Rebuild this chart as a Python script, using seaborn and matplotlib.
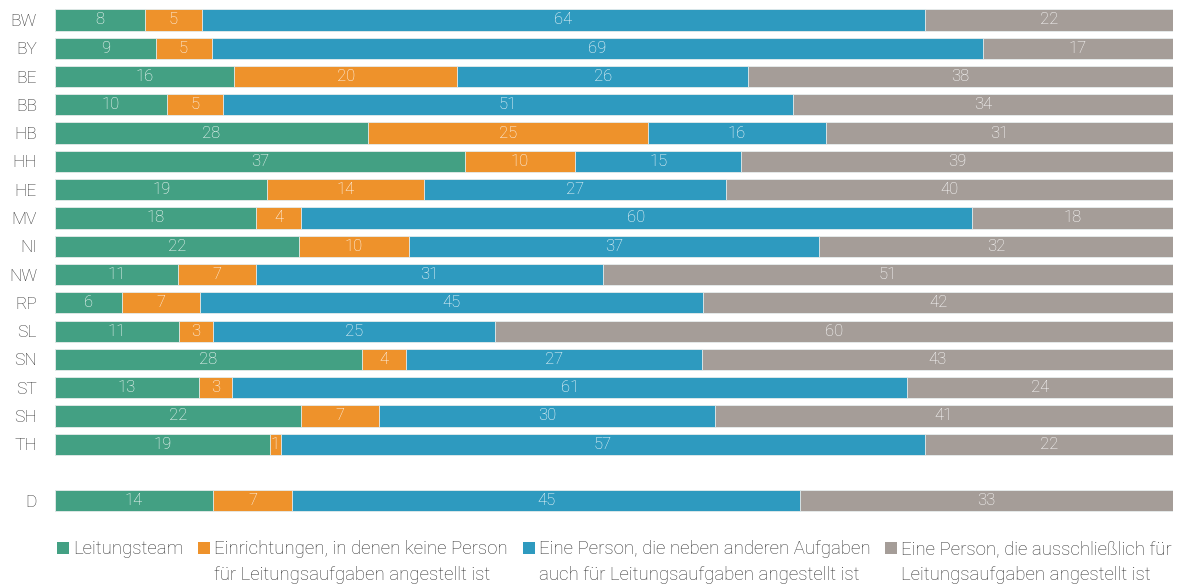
import numpy as np
import pandas as pd
import matplotlib
matplotlib.use("Agg")
import matplotlib.pyplot as plt
from matplotlib.patches import Patch, Rectangle
from matplotlib.legend_handler import HandlerPatch
import seaborn as sns

states = ["BW", "BY", "BE", "BB", "HB", "HH", "HE", "MV", "NI", "NW",
          "RP", "SL", "SN", "ST", "SH", "TH", "D"]
leitungsteam = [8, 9, 16, 10, 28, 37, 19, 18, 22, 11, 6, 11, 28, 13, 22, 19, 14]
keine_person = [5, 5, 20, 5, 25, 10, 14, 4, 10, 7, 7, 3, 4, 3, 7, 1, 7]
neben_aufgaben = [64, 69, 26, 51, 16, 15, 27, 60, 37, 31, 45, 25, 27, 61, 30, 57, 45]
ausschliesslich = [22, 17, 38, 34, 31, 39, 40, 18, 32, 51, 42, 60, 43, 24, 41, 22, 33]

series_names = [
    "Leitungsteam\n ",
    "Einrichtungen, in denen keine Person\nfür Leitungsaufgaben angestellt ist",
    "Eine Person, die neben anderen Aufgaben\nauch für Leitungsaufgaben angestellt ist",
    "Eine Person, die ausschließlich für\nLeitungsaufgaben angestellt ist",
]
colors = ["#43A083", "#EE922B", "#2E9ABF", "#A59D98"]

sns.set_theme(style="white")
plt.rcParams["font.family"] = ["Roboto", "DejaVu Sans"]

vals = np.array([leitungsteam, keine_person, neben_aufgaben, ausschliesslich], dtype=float)
shares = vals / vals.sum(axis=0) * 100
cum = np.cumsum(shares, axis=0)

order = states[:-1] + [" "] + ["D"]

fig = plt.figure(figsize=(11.83, 5.84), dpi=100)
ax = fig.add_axes([55 / 1183, 1 - 515 / 584, (1173 - 55) / 1183, (515 - 5.8) / 584])

for i in range(3, -1, -1):
    df = pd.DataFrame({"state": states, "x": cum[i]})
    sns.barplot(data=df, y="state", x="x", order=order, orient="h",
                color=colors[i], saturation=1, width=0.75, ax=ax,
                edgecolor="#e8eeee", linewidth=0.6)

ypos = {s: order.index(s) for s in states}
for i in range(4):
    for j, s in enumerate(states):
        left = cum[i][j] - shares[i][j]
        ax.text(left + shares[i][j] / 2, ypos[s], f"{int(vals[i][j])}",
                ha="center", va="center", color="white", fontsize=12,
                fontweight="light")

ax.set_xlim(0, 100)
ax.set_ylim(17.5, -0.5)
ax.set_xlabel("")
ax.set_ylabel("")
ax.set_xticks([])
ax.tick_params(axis="y", length=0, pad=13, labelsize=12.5, labelcolor="#333333")
for lab in ax.get_yticklabels():
    lab.set_fontweight("light")
for sp in ax.spines.values():
    sp.set_visible(False)

LEG_FS = 13.4


def top_square(legend, orig_handle, xdescent, ydescent, width, height, fontsize):
    return Rectangle((-xdescent, -ydescent + 0.77 * fontsize), width, height)


handles = [Patch(facecolor=c, edgecolor="none") for c in colors]
leg = fig.legend(handles, series_names, loc="upper left", ncol=4,
                 bbox_to_anchor=(57 / 1183, 1 - 540 / 584), frameon=False,
                 borderpad=0, borderaxespad=0, handlelength=0.64, handleheight=0.64,
                 handletextpad=0.22, columnspacing=0.8,
                 handler_map={Patch: HandlerPatch(patch_func=top_square)},
                 prop={"size": LEG_FS, "weight": "light"})
for t in leg.get_texts():
    t.set_color("#333333")
    t.set_linespacing(1.56)

fig.savefig("out.png", dpi=100)
